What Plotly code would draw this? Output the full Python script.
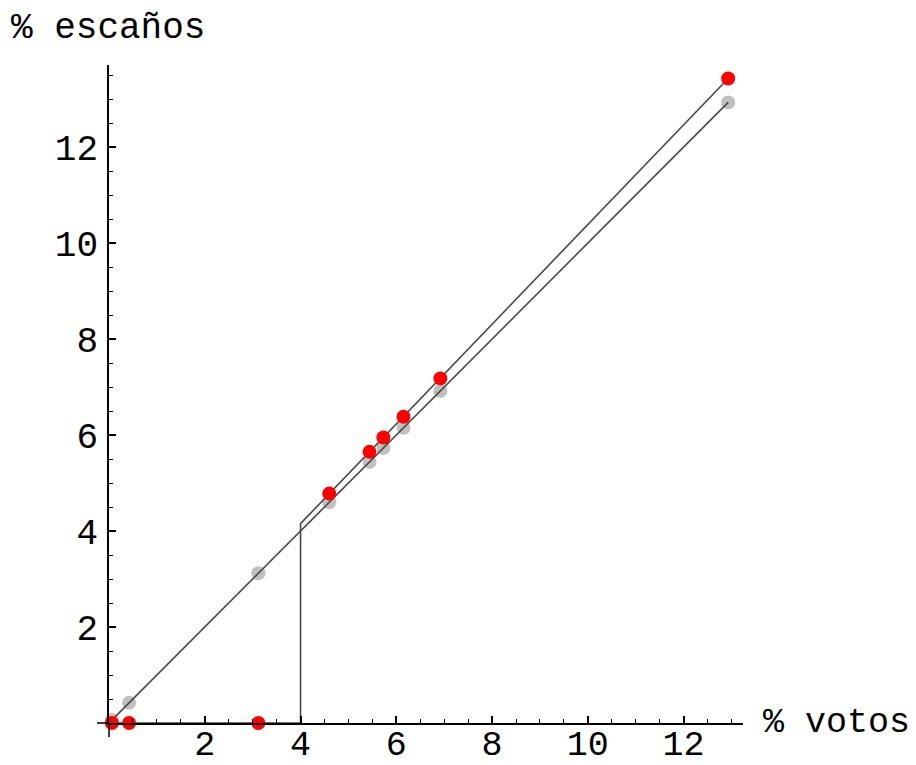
import numpy as np
import plotly.graph_objects as go

# data
votos = [0.06, 0.42, 3.12, 4.60, 5.44, 5.73, 6.15, 6.92, 12.93]
escanos_prop = [0.06, 0.42, 3.12, 4.60, 5.44, 5.73, 6.15, 6.92, 12.93]
escanos = [0.0, 0.0, 0.0, 4.78, 5.65, 5.95, 6.38, 7.18, 13.43]
umbral = 4.0
x_ticks = [2, 4, 6, 8, 10, 12]
y_ticks = [2, 4, 6, 8, 10, 12]
x_range = [0, 13.24]
y_range = [0, 13.71]

FONT = "Liberation Mono"
LINE = "#484848"

k = escanos[-1] / votos[-1]

fig = go.Figure()
# grey (proportional) points
fig.add_trace(go.Scatter(x=votos, y=escanos_prop, mode="markers",
                         marker=dict(size=14, color="rgba(150,150,150,0.6)"),
                         cliponaxis=False, hoverinfo="skip"))
# proportional line
fig.add_trace(go.Scatter(x=[0, votos[-1]], y=[0, escanos_prop[-1]], mode="lines",
                         line=dict(color=LINE, width=1.6), hoverinfo="skip"))
# threshold line
fig.add_trace(go.Scatter(x=[0, umbral, umbral, votos[-1]],
                         y=[0, 0, umbral * k, escanos[-1]], mode="lines",
                         line=dict(color=LINE, width=1.6), hoverinfo="skip"))
# red points
fig.add_trace(go.Scatter(x=votos, y=escanos, mode="markers",
                         marker=dict(size=14, color="#ff0000"),
                         cliponaxis=False, hoverinfo="skip"))

minor_x = [v for v in np.arange(0.5, 13.25, 0.5) if v % 2 != 0]
minor_y = [v for v in np.arange(0.5, 13.75, 0.5) if v % 2 != 0]

common = dict(showgrid=False, zeroline=False, showline=True, automargin=False,
              linecolor="black", linewidth=1.5, ticks="inside", ticklen=7,
              tickwidth=1.5, tickcolor="black")

fig.update_xaxes(range=x_range, tickvals=x_ticks, ticktext=[str(v) for v in x_ticks],
                 ticklabelstandoff=-12,
                 tickfont=dict(family=FONT, size=35, color="black"),
                 minor=dict(tickvals=minor_x, ticks="inside", ticklen=4,
                            tickwidth=1.2, tickcolor="black", showgrid=False),
                 **common)
fig.update_yaxes(range=y_range, tickvals=y_ticks, ticktext=[str(v) for v in y_ticks],
                 ticklabelstandoff=2,
                 tickfont=dict(family=FONT, size=36, color="black"),
                 minor=dict(tickvals=minor_y, ticks="inside", ticklen=4,
                            tickwidth=1.2, tickcolor="black", showgrid=False),
                 **common)

# page body has an 8px margin, so the figure is drawn 8px right/down
W, H = 908, 757
ml, mr, mt, mb = 101, 173, 57, 42
pw, ph = W - ml - mr, H - mt - mb

fig.update_layout(
    width=W, height=H, showlegend=False,
    paper_bgcolor="white", plot_bgcolor="white",
    margin=dict(l=ml, r=mr, t=mt, b=mb, pad=0),
    shapes=[
        dict(type="line", xref="paper", yref="paper", x0=-12 / pw, x1=0, y0=0, y1=0,
             line=dict(color="black", width=1.5)),
        dict(type="line", xref="paper", yref="paper", x0=0, x1=0, y0=-14 / ph, y1=0,
             line=dict(color="black", width=1.5)),
    ],
    annotations=[
        dict(text="% escaños", xref="paper", yref="paper", x=-100 / pw, y=1 + 37 / ph,
             xanchor="left", yanchor="middle", showarrow=False,
             font=dict(family=FONT, size=36, color="black")),
        dict(text="% votos", xref="paper", yref="paper", x=1 + 18 / pw, y=0,
             xanchor="left", yanchor="middle", showarrow=False,
             font=dict(family=FONT, size=35, color="black")),
    ],
)

fig.write_html("out.html")
